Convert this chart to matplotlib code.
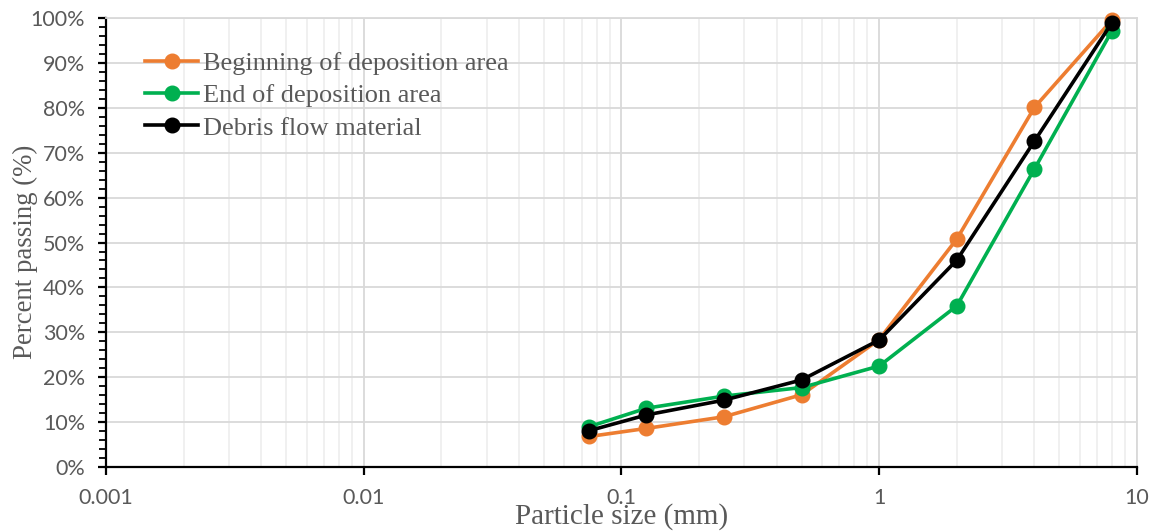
import matplotlib
matplotlib.use("Agg")
import matplotlib.pyplot as plt
from matplotlib.ticker import LogLocator, FixedLocator, FuncFormatter, NullFormatter

# Sieve sizes (mm) and cumulative percent passing
sizes = [0.075, 0.125, 0.25, 0.5, 1, 2, 4, 8]
beginning = [6.8, 8.6, 11.2, 16.1, 28.4, 50.8, 80.1, 99.6]
end_area = [9.0, 13.1, 15.8, 17.7, 22.5, 35.9, 66.4, 97.2]
debris = [8.1, 11.6, 14.9, 19.4, 28.3, 46.1, 72.6, 99.0]

series_names = ["Beginning of deposition area", "End of deposition area", "Debris flow material"]
series_colors = ["#ED7D31", "#00B050", "#000000"]

x_ticks = [0.001, 0.01, 0.1, 1, 10]
x_tick_labels = ["0.001", "0.01", "0.1", "1", "10"]
y_ticks = list(range(0, 101, 10))

fig = plt.figure(figsize=(11.58, 5.31), dpi=100)
ax = fig.add_axes([0.0915, 0.1205, 0.8904, 0.8455])

for vals, name, col in zip([beginning, end_area, debris], series_names, series_colors):
    ax.plot(sizes, vals, color=col, lw=2.6, marker="o", markersize=10.5,
            label=name, zorder=3, clip_on=False)

ax.set_xscale("log")
ax.set_xlim(0.001, 10)
ax.set_ylim(0, 100)

ax.xaxis.set_major_locator(FixedLocator(x_ticks))
ax.xaxis.set_major_formatter(FuncFormatter(lambda v, p: x_tick_labels[x_ticks.index(v)] if v in x_ticks else ""))
ax.xaxis.set_minor_locator(LogLocator(base=10, subs=range(2, 10)))
ax.xaxis.set_minor_formatter(NullFormatter())
ax.yaxis.set_major_locator(FixedLocator(y_ticks))
ax.yaxis.set_minor_locator(FixedLocator(range(0, 101, 2)))
ax.yaxis.set_major_formatter(FuncFormatter(lambda v, p: f"{int(v)}%"))

ax.grid(which="major", axis="both", color="#D9D9D9", lw=1.3, zorder=0)
ax.grid(which="minor", axis="x", color="#EFEFEF", lw=1.3, zorder=0)
ax.set_axisbelow(True)

for side in ("top", "right"):
    ax.spines[side].set_color("#D9D9D9")
    ax.spines[side].set_linewidth(1.3)
for side in ("left", "bottom"):
    ax.spines[side].set_color("black")
    ax.spines[side].set_linewidth(1.6)

ax.tick_params(axis="both", which="major", direction="out", length=6, width=1.6,
               colors="black", labelcolor="#595959", labelsize=15.5)
ax.tick_params(axis="x", which="minor", length=0)
ax.tick_params(axis="y", which="minor", direction="out", length=5, width=1.3, colors="black")
ax.tick_params(axis="x", which="major", pad=9)
ax.tick_params(axis="y", which="major", pad=9)
for lab in ax.get_xticklabels() + ax.get_yticklabels():
    lab.set_fontfamily("Lato")

ax.set_xlabel("Particle size (mm)", fontsize=21, fontfamily="Liberation Serif",
              color="#595959", labelpad=-3.5)
ax.set_ylabel("Percent passing (%)", fontsize=19.4, fontfamily="Liberation Serif",
              color="#595959")
ax.yaxis.set_label_coords(-0.066, 0.479)

leg = ax.legend(loc="upper left", bbox_to_anchor=(0.038, 0.925), frameon=False,
                prop={"family": "Liberation Serif", "size": 19},
                handlelength=2.0, handletextpad=0.19, labelspacing=0.33,
                borderaxespad=0, borderpad=0)
for t in leg.get_texts():
    t.set_color("#595959")

fig.savefig("out.png", dpi=100)
